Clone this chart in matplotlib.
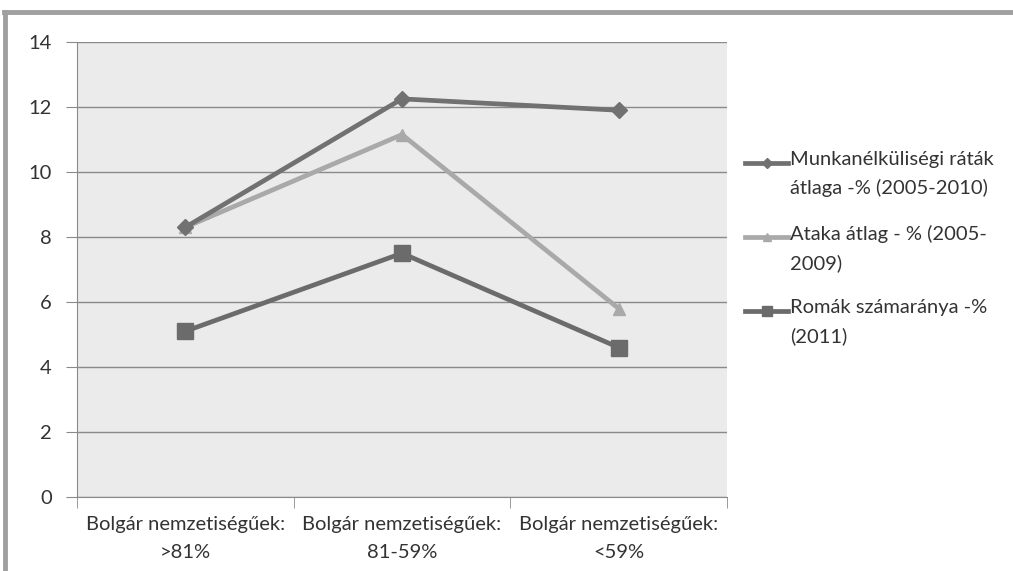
import matplotlib.pyplot as plt
from matplotlib.lines import Line2D
import numpy as np

plt.rcParams['font.family'] = ['Lato', 'DejaVu Sans']

# data
categories = ['Bolgár nemzetiségűek:\n>81%', 'Bolgár nemzetiségűek:\n81-59%', 'Bolgár nemzetiségűek:\n<59%']
munka = [8.3, 12.25, 11.9]
ataka = [8.3, 11.15, 5.8]
romak = [5.1, 7.5, 4.6]
labels = ['Munkanélküliségi ráták\nátlaga -% (2005-2010)',
          'Ataka átlag - % (2005-\n2009)',
          'Romák számaránya -%\n(2011)']

fig = plt.figure(figsize=(10.13, 5.71), dpi=100)
ax = fig.add_axes([77/1013, 74/571, 650/1013, 455/571])
ax.set_facecolor('#ebebeb')

x = np.arange(len(categories))
styles = [dict(color='#717171', marker='D', ms=8, zorder=4),
          dict(color='#a9a9a9', marker='^', ms=9, zorder=3),
          dict(color='#6b6b6b', marker='s', ms=11, zorder=5)]
series = [munka, ataka, romak]
for vals, st in zip(series, styles):
    ax.plot(x, vals, lw=3.4, **st)

ax.set_xlim(-0.5, 2.5)
ax.set_ylim(0, 14)
ax.set_yticks(range(0, 15, 2))
ax.yaxis.grid(True, color='#8a8a8a', lw=1)
ax.set_axisbelow(True)
ax.tick_params(axis='y', length=8, color='#8a8a8a', labelsize=14.5, labelcolor='#333333', pad=10)

# category labels centered, boundary ticks
ax.set_xticks(x)
ax.set_xticklabels(categories, fontsize=14.5, color='#333333', linespacing=1.75)
ax.tick_params(axis='x', length=0, pad=14)
ax.set_xticks([-0.5, 0.5, 1.5, 2.5], minor=True)
ax.tick_params(axis='x', which='minor', length=8, color='#8a8a8a')

for s in ['top', 'right']:
    ax.spines[s].set_visible(False)
for s in ['left', 'bottom']:
    ax.spines[s].set_color('#8a8a8a')

# legend drawn by hand so the key sits on the first text line
for i, (lab, st) in enumerate(zip(labels, styles)):
    yy = 1 - (163 + 74*i)/571
    fig.add_artist(Line2D([745/1013, 788/1013], [yy, yy], lw=3.4, color=st['color'],
                          zorder=st['zorder']))
    fig.add_artist(Line2D([766.5/1013], [yy], lw=0, color=st['color'],
                          marker=st['marker'], ms=st['ms']*0.7))
    fig.text(790/1013, yy + 12/571, lab, fontsize=14.5, color='#333333',
             va='top', ha='left', linespacing=1.75)

# outer frame (top and left edges)
fig.add_artist(Line2D([4/1013, 1], [1 - 12/571, 1 - 12/571], color='#a0a0a0', lw=3.5))
fig.add_artist(Line2D([5/1013, 5/1013], [0, 1 - 12/571], color='#a0a0a0', lw=3.5))

fig.savefig('out.png', dpi=100)
